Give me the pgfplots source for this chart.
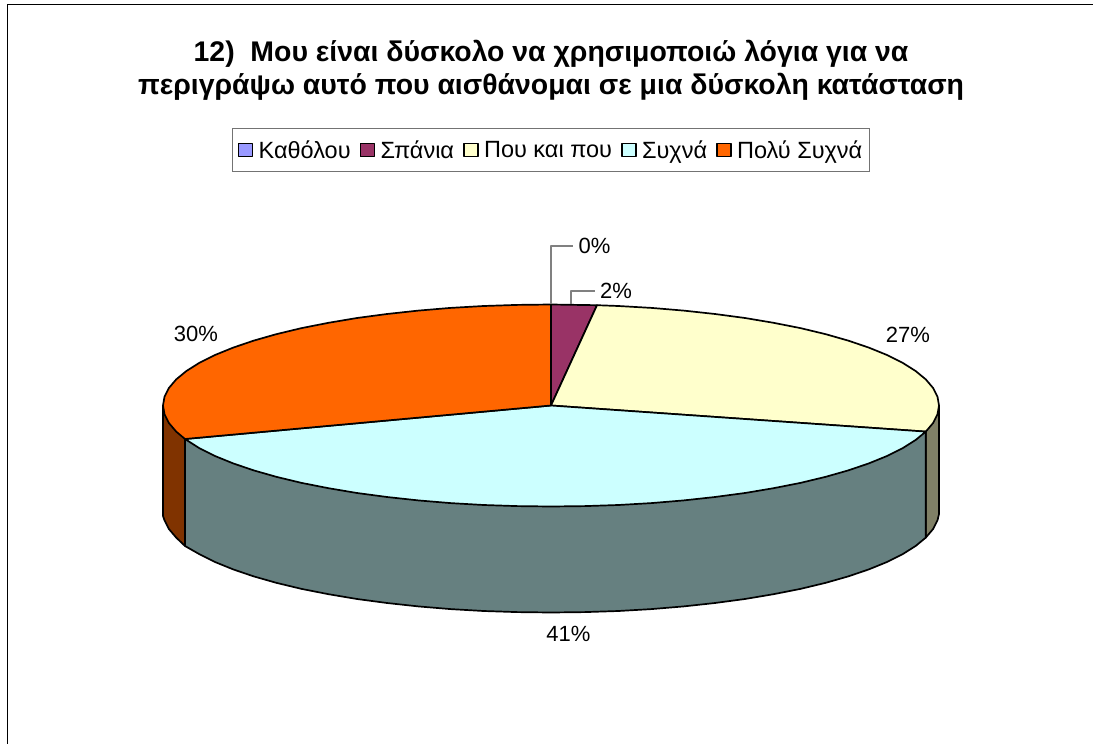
\documentclass[border=0pt]{standalone}
\usepackage{pgfplots}
\pgfplotsset{compat=1.18}
\usepackage{fontspec}
\setmainfont{Liberation Sans}
\definecolor{c1}{HTML}{9999FF}
\definecolor{c2}{HTML}{993366}
\definecolor{c3}{HTML}{FFFFCC}
\definecolor{c4}{HTML}{CCFFFF}
\definecolor{c5}{HTML}{FF6600}
\definecolor{w3}{HTML}{808066}
\definecolor{w4}{HTML}{668080}
\definecolor{w5}{HTML}{803300}
\begin{document}
\begin{tikzpicture}
\begin{axis}[
  scale only axis, width=1093pt, height=744pt,
  xmin=0, xmax=1093, ymin=0, ymax=744, y dir=reverse,
  axis lines=none, ticks=none,
  legend columns=5,
  legend cell align=left,
  legend image code/.code={\draw[#1,line width=1.5pt] (0pt,-6.5pt) rectangle (14pt,6.5pt);},
  legend style={at={(axis cs:551,150)},anchor=center,draw=gray!90!black,line width=1.2pt,
    font=\fontsize{23.5}{27}\selectfont,inner xsep=5.5pt,inner ysep=9.5pt,
    nodes={inner sep=2pt},
    /tikz/every odd column/.append style={column sep=3.5pt},
    /tikz/every even column/.append style={column sep=7pt}},
  every axis plot/.append style={line width=1.7pt,line join=round},
]
% page extent
\addplot[forget plot,draw=none] coordinates {(0,0)(1093,744)};
% frame
\addplot[forget plot,black,line width=1.5pt] coordinates {(7.3,744)(7.3,4.5)(1093,4.5)};
% walls
\addplot[forget plot,draw=black,fill=w5] coordinates {(163,405.5)(163,516)(164.5,520.3)(168.9,529)(176.2,537.6)(185,546)(185,439)} --cycle;
\addplot[forget plot,draw=black,fill=w3] coordinates {(939,405.5)(939,514)(937.5,520.3)(933.1,529)(925.8,537.6)(925.8,431.6)} --cycle;
\addplot[forget plot,draw=black,fill=w4] coordinates {(925.8,431.6)(925.8,537.6)(915.6,546)(902.6,554.2)(887,562)(868.8,569.4)(848.2,576.4)(825.4,582.9)(800.4,588.9)(773.5,594.2)(745,599)(715,603)(683.7,606.4)(651.4,609.1)(618.4,611)(584.8,612.1)(551,612.5)(517.2,612.1)(483.6,611)(450.6,609.1)(418.3,606.4)(387,603)(357,599)(328.5,594.2)(301.6,588.9)(276.6,582.9)(253.8,576.4)(233.2,569.4)(215,562)(199.4,554.2)(185,546)(185,439)} --cycle;
% slices
\addplot[draw=black,fill=c1] coordinates {(551,405.5)(551,304.5)} --cycle;
\addlegendentry{Καθόλου}
\addplot[draw=black,fill=c2] coordinates {(551,405.5)(551,304.5)(597,305.2)} --cycle;
\addlegendentry{Σπάνια}
\addplot[draw=black,fill=c3] coordinates {(551,405.5)(597,305.2)(618.4,306)(651.4,307.9)(683.7,310.6)(715,314)(745,318)(773.5,322.8)(800.4,328.1)(825.4,334.1)(848.2,340.6)(868.8,347.6)(887,355)(902.6,362.8)(915.6,371)(925.8,379.4)(933.1,388)(937.5,396.7)(939,405.5)(937.5,414.3)(933.1,423)(925.8,431.6)} --cycle;
\addlegendentry{Που και που}
\addplot[draw=black,fill=c4] coordinates {(551,405.5)(925.8,431.6)(915.6,440)(902.6,448.2)(887,456)(868.8,463.4)(848.2,470.4)(825.4,476.9)(800.4,482.9)(773.5,488.2)(745,493)(715,497)(683.7,500.4)(651.4,503.1)(618.4,505)(584.8,506.1)(551,506.5)(517.2,506.1)(483.6,505)(450.6,503.1)(418.3,500.4)(387,497)(357,493)(328.5,488.2)(301.6,482.9)(276.6,476.9)(253.8,470.4)(233.2,463.4)(215,456)(199.4,448.2)(185,439)} --cycle;
\addlegendentry{Συχνά}
\addplot[draw=black,fill=c5] coordinates {(551,405.5)(185,439)(176.2,431.6)(168.9,423)(164.5,414.3)(163,405.5)(164.5,396.7)(168.9,388)(176.2,379.4)(186.4,371)(199.4,362.8)(215,355)(233.2,347.6)(253.8,340.6)(276.6,334.1)(301.6,328.1)(328.5,322.8)(357,318)(387,314)(418.3,310.6)(450.6,307.9)(483.6,306)(517.2,304.9)(551,304.5)} --cycle;
\addlegendentry{Πολύ Συχνά}
% leaders
\addplot[forget plot,gray,line width=1.1pt] coordinates {(551,304)(551,246)(573,246)};
\addplot[forget plot,gray,line width=1.1pt] coordinates {(571,304)(571,291)(595,291)};
% title
\node[align=center,font=\fontsize{28.4}{33}\selectfont\bfseries] at (axis cs:551,70.5) {12)\ \ Μου είναι δύσκολο να χρησιμοποιώ λόγια για να\\περιγράψω αυτό που αισθάνομαι σε μια δύσκολη κατάσταση};
% labels
\node[font=\fontsize{22}{26}\selectfont] at (axis cs:594.5,246) {0\%};
\node[font=\fontsize{22}{26}\selectfont] at (axis cs:616,291) {2\%};
\node[font=\fontsize{22}{26}\selectfont] at (axis cs:908,335) {27\%};
\node[font=\fontsize{22}{26}\selectfont] at (axis cs:196,334) {30\%};
\node[font=\fontsize{22}{26}\selectfont] at (axis cs:568.5,634) {41\%};
\end{axis}
\end{tikzpicture}
\end{document}
